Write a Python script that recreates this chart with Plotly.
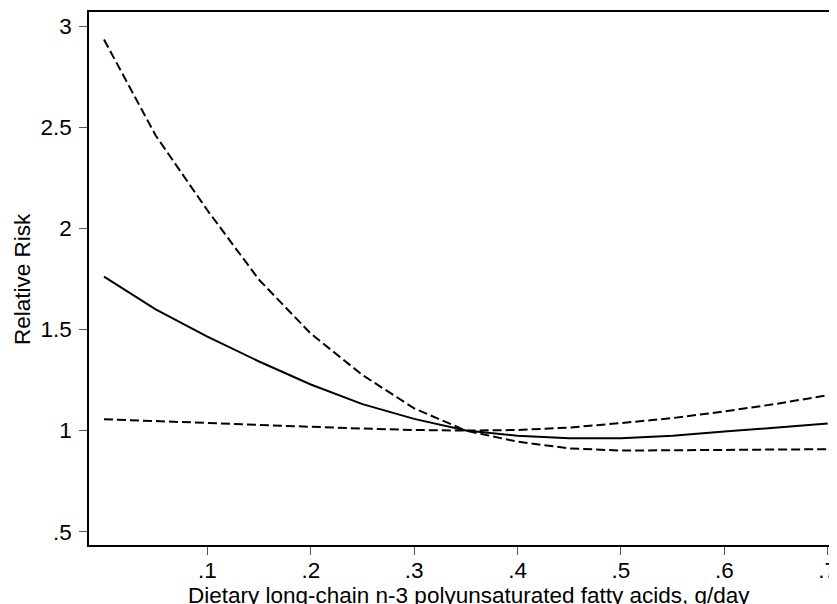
import plotly.graph_objects as go

x_vals = [0.0, 0.05, 0.1, 0.15, 0.2, 0.25, 0.3, 0.35, 0.4, 0.45, 0.5, 0.55, 0.6, 0.65, 0.7]
rr = [1.762, 1.60, 1.465, 1.342, 1.228, 1.131, 1.058, 1.0, 0.975, 0.962, 0.962, 0.975, 0.995, 1.015, 1.035]
upper_ci = [2.935, 2.46, 2.09, 1.746, 1.48, 1.275, 1.11, 1.0, 1.003, 1.015, 1.037, 1.062, 1.095, 1.132, 1.175]
lower_ci = [1.056, 1.048, 1.038, 1.028, 1.018, 1.01, 1.003, 1.0, 0.945, 0.912, 0.901, 0.902, 0.904, 0.906, 0.908]

x_ticks = [0.1, 0.2, 0.3, 0.4, 0.5, 0.6, 0.7]
x_tick_labels = [".1", ".2", ".3", ".4", ".5", ".6", ".7"]
y_ticks = [0.5, 1, 1.5, 2, 2.5, 3]
y_tick_labels = [".5", "1", "1.5", "2", "2.5", "3"]

FONT = "Liberation Sans, Arial, sans-serif"
FS = 22.5

# page has an 8px body margin; figure sized so the plot lands where the reference has it
W, H = 829, 596
ML, MR, MT, MB = 81, 0, 4, 59
PW, PH = W - ML - MR, H - MT - MB

fig = go.Figure()
fig.add_trace(go.Scatter(x=x_vals, y=upper_ci, mode="lines",
                         line=dict(color="black", width=2, dash="9px,4px"), showlegend=False))
fig.add_trace(go.Scatter(x=x_vals, y=lower_ci, mode="lines",
                         line=dict(color="black", width=2, dash="9px,4px"), showlegend=False))
fig.add_trace(go.Scatter(x=x_vals, y=rr, mode="lines",
                         line=dict(color="black", width=2), showlegend=False))

fig.update_layout(
    width=W, height=H,
    margin=dict(l=ML, r=MR, t=MT, b=MB, pad=0),
    paper_bgcolor="white", plot_bgcolor="white",
    font=dict(family=FONT, size=FS, color="black"),
    xaxis=dict(range=[-0.0145, 0.70415], tickvals=x_ticks, ticktext=x_tick_labels,
               showgrid=False, zeroline=False, showline=True, linecolor="black", linewidth=1.5,
               mirror=True, ticks="outside", ticklen=8, tickcolor="#555555", tickwidth=1,
               tickfont=dict(size=FS), ticklabeloverflow="allow", ticklabelstandoff=-4),
    yaxis=dict(range=[0.434, 3.071], tickvals=y_ticks, ticktext=y_tick_labels,
               showgrid=False, zeroline=False, showline=True, linecolor="black", linewidth=1.5,
               mirror=False, ticks="outside", ticklen=8, tickcolor="#555555", tickwidth=1,
               tickfont=dict(size=FS), ticklabelstandoff=3),
    annotations=[
        dict(text="Dietary long-chain n-3 polyunsaturated fatty acids, g/day",
             xref="paper", yref="paper", x=(464 - ML) / PW, y=0,
             yshift=-50, xanchor="center", yanchor="middle", showarrow=False,
             font=dict(size=FS)),
        dict(text="Relative Risk", textangle=-90,
             xref="paper", yref="paper", x=(14 - ML) / PW, y=0.5,
             xanchor="center", yanchor="middle", showarrow=False,
             font=dict(size=FS)),
    ],
)

fig.write_html("out.html")
